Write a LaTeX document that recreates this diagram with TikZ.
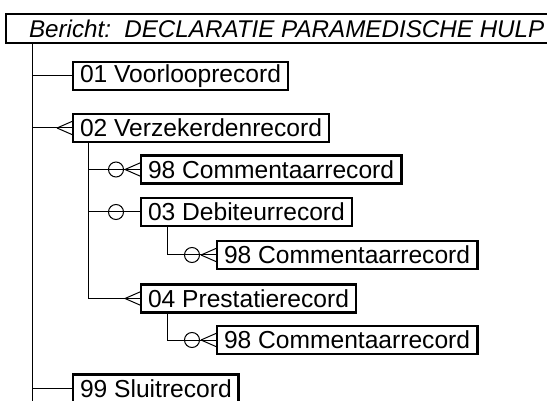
\documentclass[tikz,border=0pt]{standalone}
\usepackage{fontspec}
\setmainfont{Liberation Sans}
\newcommand\crowfoot[1]{\draw[conn] ([xshift=-16pt]#1.west) -- ([yshift=-7pt]#1.west) ([xshift=-16pt]#1.west) -- ([yshift=7pt]#1.west);}
\newcommand\zerocirc[1]{\draw[conn] ([xshift=-25pt]#1.west) circle (7.5pt);}
\begin{document}
\begin{tikzpicture}[x=1pt,y=-1pt,
  rec/.style={draw, line width=2.8pt, outer sep=0pt, anchor=west,
    font=\fontsize{24.6}{25}\selectfont, inner xsep=7pt, inner ysep=0pt, minimum height=28pt},
  titlebox/.style={draw, line width=1.2pt, outer sep=0pt, anchor=west,
    font=\itshape\fontsize{24.2}{25}\selectfont, inner xsep=23pt, inner ysep=0pt, minimum height=29pt},
  conn/.style={line width=1pt}]
\useasboundingbox (0,0) rectangle (547,401);
\clip (0,0) rectangle (547,401);
\node[titlebox] (title) at (6,28.5) {Bericht:\hspace{0.55em}DECLARATIE PARAMEDISCHE HULP};
\node[rec] (n01) at (73,76) {01 Voorlooprecord};
\node[rec] (n02) at (73,128) {02 Verzekerdenrecord};
\node[rec] (n98a) at (141,169.5) {98 Commentaarrecord};
\node[rec] (n03) at (141,212) {03 Debiteurrecord};
\node[rec] (n98b) at (217,255) {98 Commentaarrecord};
\node[rec] (n04) at (141,298.5) {04 Prestatierecord};
\node[rec] (n98c) at (217,340) {98 Commentaarrecord};
\node[rec] (n99) at (73,388.5) {99 Sluitrecord};
\coordinate (spine) at (32,43);
\coordinate (spineEnd) at (32,401);
\draw[conn] (spine) -- (spineEnd);
\draw[conn] (spine |- n01.west) -- (n01.west);
\draw[conn] (spine |- n02.west) -- (n02.west);
\crowfoot{n02}
\draw[conn] (spine |- n99.west) -- (n99.west);
% children of 02
\draw[conn] ([xshift=15pt]n02.south west) |- (n04.west);
\crowfoot{n04}
\draw[conn] ([xshift=15pt]n02.south west |- n98a.west) -- (n98a.west);
\zerocirc{n98a}
\crowfoot{n98a}
\draw[conn] ([xshift=15pt]n02.south west |- n03.west) -- (n03.west);
\zerocirc{n03}
% children of 03 and 04
\draw[conn] ([xshift=26pt]n03.south west) |- (n98b.west);
\zerocirc{n98b}
\crowfoot{n98b}
\draw[conn] ([xshift=26pt]n04.south west) |- (n98c.west);
\zerocirc{n98c}
\crowfoot{n98c}
\end{tikzpicture}
\end{document}
